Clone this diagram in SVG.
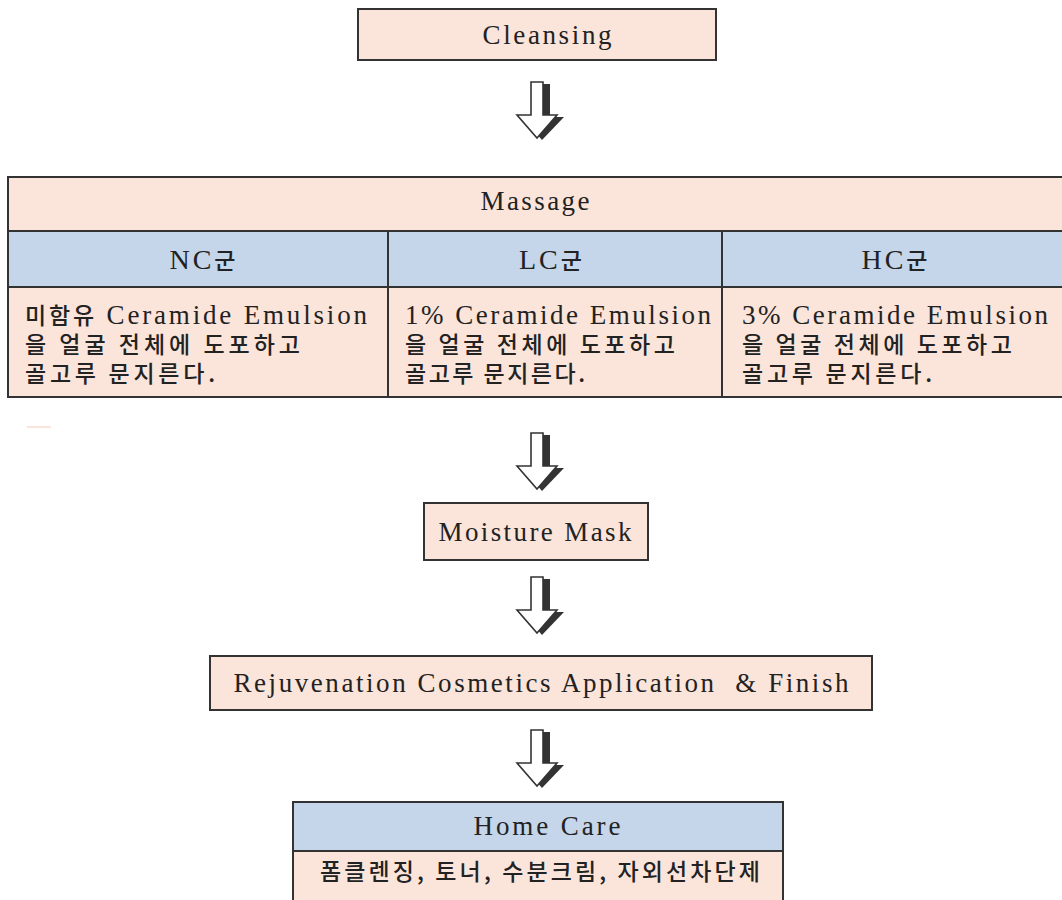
<svg xmlns="http://www.w3.org/2000/svg" xmlns:xlink="http://www.w3.org/1999/xlink" width="1062" height="900" viewBox="0 0 1062 900">
  <style>
    .pink { fill: #fbe4da; stroke: #333; stroke-width: 2; }
    .blue { fill: #c5d5ea; stroke: #333; stroke-width: 2; }
    text { font-family: "Liberation Serif", "Noto Sans CJK KR", serif; font-size: 27px; fill: #222; }
    .c { text-anchor: middle; }
    .ko { font-family: "Noto Sans CJK KR", "Liberation Serif", sans-serif; font-size: 23px; font-weight: 500; }
    .hd { font-size: 28px; letter-spacing: 3px; }
  </style>
  <defs>
    <!-- hollow block arrow with a dark drop shadow on its right side -->
    <g id="downArrow">
      <path d="M-1,2 H13 V35 H27 L5,58 L-15,35 H-1 Z" fill="#333"/>
      <path d="M-6,0 H6 V33 H20 L0,56 L-20,33 H-6 Z" fill="#fff" stroke="#333" stroke-width="1.6" stroke-linejoin="miter"/>
    </g>
  </defs>

  <rect width="1062" height="900" fill="#fff"/>

  <g id="cleansing">
    <rect class="pink" x="358" y="9" width="358" height="51"/>
    <text class="c" x="547" y="44" textLength="129">Cleansing</text>
  </g>

  <g id="massage">
    <rect class="pink" x="8" y="177" width="1062" height="54"/>
    <text class="c" x="535" y="210" textLength="109">Massage</text>
  </g>

  <g id="nc-group">
    <rect class="blue" x="8" y="231" width="380" height="56"/>
    <rect class="pink" x="8" y="287" width="380" height="110"/>
    <text class="c hd" x="204" y="269">NC<tspan class="ko" font-size="25">군</tspan></text>
    <text><tspan x="25" y="324" textLength="342"><tspan class="ko">미함유</tspan> Ceramide Emulsion</tspan><tspan class="ko" x="25" y="353" textLength="275">을 얼굴 전체에 도포하고</tspan><tspan class="ko" x="25" y="382" textLength="190">골고루 문지른다.</tspan></text>
  </g>

  <g id="lc-group">
    <rect class="blue" x="388" y="231" width="334" height="56"/>
    <rect class="pink" x="388" y="287" width="334" height="110"/>
    <text class="c hd" x="552" y="269">LC<tspan class="ko" font-size="25">군</tspan></text>
    <text><tspan x="405" y="324" textLength="306">1% Ceramide Emulsion</tspan><tspan class="ko" x="405" y="353" textLength="270">을 얼굴 전체에 도포하고</tspan><tspan class="ko" x="405" y="382" textLength="180">골고루 문지른다.</tspan></text>
  </g>

  <g id="hc-group">
    <rect class="blue" x="722" y="231" width="350" height="56"/>
    <rect class="pink" x="722" y="287" width="350" height="110"/>
    <text class="c hd" x="896" y="269">HC<tspan class="ko" font-size="25">군</tspan></text>
    <text><tspan x="742" y="324" textLength="306">3% Ceramide Emulsion</tspan><tspan class="ko" x="742" y="353" textLength="270">을 얼굴 전체에 도포하고</tspan><tspan class="ko" x="742" y="382" textLength="190">골고루 문지른다.</tspan></text>
  </g>

  <!-- small stray mark under the table -->
  <rect x="27" y="426" width="24" height="2" fill="#fbe4da"/>

  <g id="moisture-mask">
    <rect class="pink" x="424" y="503" width="224" height="57"/>
    <text class="c" x="535" y="541" textLength="193">Moisture Mask</text>
  </g>

  <g id="rejuvenation">
    <rect class="pink" x="210" y="656" width="662" height="54"/>
    <text class="c" x="541" y="692" textLength="615" xml:space="preserve">Rejuvenation Cosmetics Application  &amp; Finish</text>
  </g>

  <g id="home-care">
    <rect class="blue" x="293" y="802" width="490" height="49"/>
    <rect class="pink" x="293" y="851" width="490" height="60"/>
    <text class="c" x="547" y="835" textLength="147">Home Care</text>
    <text class="c ko" x="540" y="880" textLength="440">폼클렌징, 토너, 수분크림, 자외선차단제</text>
  </g>

  <g id="connectors">
    <use xlink:href="#downArrow" x="537" y="82"/>
    <use xlink:href="#downArrow" x="537" y="433"/>
    <use xlink:href="#downArrow" x="537" y="577"/>
    <use xlink:href="#downArrow" x="537" y="730"/>
  </g>
</svg>
